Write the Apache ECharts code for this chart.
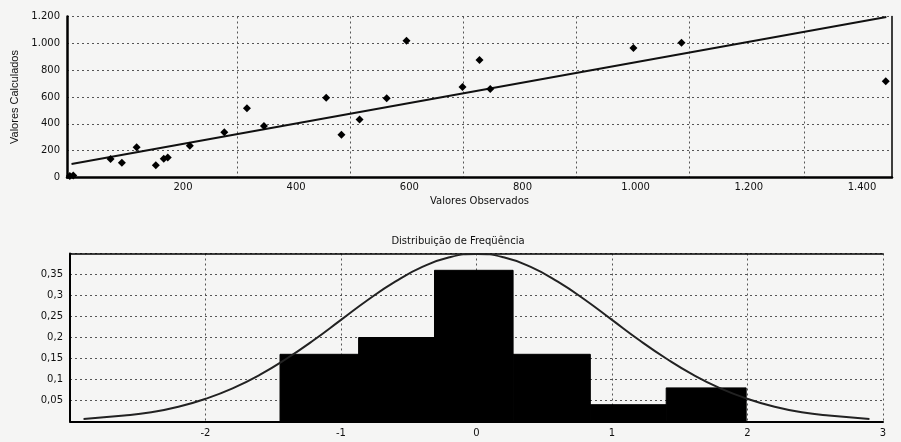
<!DOCTYPE html>
<html>
<head>
<meta charset="utf-8">
<script src="https://cdn.jsdelivr.net/npm/echarts@6/dist/echarts.min.js"></script>
<style>
html,body{margin:0;padding:0;background:#f5f5f4;}
#c{width:901px;height:442px;}
</style>
</head>
<body>
<div id="c"></div>
<script>
// ---- Top chart: observed vs calculated ----
var observed   = [0, 6, 72, 92, 118, 152, 166, 173, 212, 273, 313, 343, 453, 480, 512, 560, 595, 694, 724, 743, 996, 1081, 1442];
var calculated = [12, 14, 138, 110, 225, 91, 140, 150, 237, 337, 517, 383, 594, 319, 433, 590, 1020, 674, 875, 659, 966, 1004, 718];
var fitX = [3, 1443];
var fitY = [100, 1197];
var topXLabels = [200, 400, 600, 800, 1000, 1200, 1400];
var topXGrid = [295, 495, 695, 895, 1095, 1298];

// ---- Bottom chart: frequency distribution ----
var binLeft  = [-1.45, -0.87, -0.31, 0.27, 0.84, 1.40];
var binRight = [-0.87, -0.31, 0.27, 0.84, 1.40, 1.99];
var binFreq  = [0.16, 0.20, 0.36, 0.16, 0.04, 0.08];
var curveX = [-2.9,-2.6,-2.4,-2.2,-2.0,-1.8,-1.6,-1.4,-1.2,-1.0,-0.8,-0.6,-0.4,-0.2,0,0.2,0.4,0.6,0.8,1.0,1.2,1.4,1.6,1.8,2.0,2.2,2.4,2.6,2.9];
var curveY = [0.006,0.014,0.022,0.035,0.054,0.079,0.111,0.150,0.194,0.242,0.290,0.333,0.368,0.391,0.399,0.391,0.368,0.333,0.290,0.242,0.194,0.150,0.111,0.079,0.054,0.035,0.022,0.014,0.006];

var txt = '#111';
var font = 'DejaVu Sans';
var gridLine = {show: true, lineStyle: {color: '#555', type: [2, 3], width: 1}};

function thousands(v) {
  var s = String(Math.round(v));
  return s.replace(/\B(?=(\d{3})+(?!\d))/g, '.');
}
function decComma(v) {
  return String(+v.toFixed(2)).replace('.', ',');
}

var scatterData = observed.map(function (x, i) { return [x, calculated[i]]; });
var fitData = fitX.map(function (x, i) { return [x, fitY[i]]; });
var histData = binLeft.map(function (l, i) { return [l, binRight[i], binFreq[i]]; });
var curveData = curveX.map(function (x, i) { return [x, curveY[i]]; });

var chart = echarts.init(document.getElementById('c'), null, {renderer: 'canvas'});
chart.setOption({
  backgroundColor: '#f5f5f4',
  animation: false,
  textStyle: {fontFamily: font},
  graphic: [{
    type: 'text',
    x: 458, y: 241,
    style: {text: 'Distribuição de Freqüência', font: '10px "DejaVu Sans"', fill: txt, textAlign: 'center', textVerticalAlign: 'middle'}
  }],
  grid: [
    {left: 67, top: 16.5, width: 825, height: 161},
    {left: 70, top: 253.5, width: 813, height: 168}
  ],
  xAxis: [
    {
      type: 'value', gridIndex: 0, min: -5, max: 1453,
      name: 'Valores Observados', nameLocation: 'middle', nameGap: 19,
      nameTextStyle: {color: txt, fontSize: 10, fontFamily: font},
      axisLine: {show: true, onZero: false, lineStyle: {color: '#000', width: 2.5}},
      axisTick: {show: false, customValues: topXGrid},
      axisLabel: {customValues: topXLabels, color: txt, fontSize: 10, margin: 5, formatter: thousands},
      splitLine: gridLine
    },
    {
      type: 'value', gridIndex: 1, min: -3, max: 3, interval: 1,
      axisLine: {show: true, onZero: false, lineStyle: {color: '#000', width: 2}},
      axisTick: {show: false},
      axisLabel: {color: txt, fontSize: 10, margin: 7, showMinLabel: false, formatter: function (v) { return String(v); }},
      splitLine: gridLine
    },
    {
      type: 'value', gridIndex: 1, position: 'top', min: -3, max: 3,
      axisLine: {show: true, onZero: false, lineStyle: {color: '#000', width: 1.5}},
      axisTick: {show: false}, axisLabel: {show: false}, splitLine: {show: false}
    }
  ],
  yAxis: [
    {
      type: 'value', gridIndex: 0, min: 0, max: 1200, interval: 200,
      name: 'Valores Calculados', nameLocation: 'middle', nameGap: 45,
      nameTextStyle: {color: txt, fontSize: 11, fontFamily: 'Liberation Sans'},
      axisLine: {show: true, onZero: false, lineStyle: {color: '#000', width: 2.5}},
      axisTick: {show: false},
      axisLabel: {color: txt, fontSize: 10, margin: 7, formatter: thousands},
      splitLine: gridLine
    },
    {
      type: 'value', gridIndex: 0, position: 'right', min: 0, max: 1200,
      axisLine: {show: true, onZero: false, lineStyle: {color: '#000', width: 1.5}},
      axisTick: {show: false}, axisLabel: {show: false}, splitLine: {show: false}
    },
    {
      type: 'value', gridIndex: 1, min: 0, max: 0.4, interval: 0.05,
      axisLine: {show: true, onZero: false, lineStyle: {color: '#000', width: 2}},
      axisTick: {show: false},
      axisLabel: {color: txt, fontSize: 10, margin: 7, showMinLabel: false, showMaxLabel: false, formatter: decComma},
      splitLine: gridLine
    }
  ],
  series: [
    {
      type: 'line', xAxisIndex: 0, yAxisIndex: 0, data: fitData,
      symbol: 'none', lineStyle: {color: '#111', width: 2}, z: 3
    },
    {
      type: 'scatter', xAxisIndex: 0, yAxisIndex: 0, data: scatterData,
      symbol: 'diamond', symbolSize: 8, itemStyle: {color: '#000', opacity: 1}, z: 4
    },
    {
      type: 'custom', xAxisIndex: 1, yAxisIndex: 2, data: histData,
      encode: {x: [0, 1], y: 2},
      renderItem: function (params, api) {
        var p0 = api.coord([api.value(0), api.value(2)]);
        var p1 = api.coord([api.value(1), 0]);
        return {type: 'rect', shape: {x: p0[0], y: p0[1], width: p1[0] - p0[0], height: p1[1] - p0[1]}, style: {fill: '#000', stroke: '#000', lineWidth: 1}};
      },
      z: 3
    },
    {
      type: 'line', xAxisIndex: 1, yAxisIndex: 2, data: curveData, smooth: true,
      symbol: 'none', lineStyle: {color: '#222', width: 2}, z: 4
    }
  ]
});
</script>
</body>
</html>
